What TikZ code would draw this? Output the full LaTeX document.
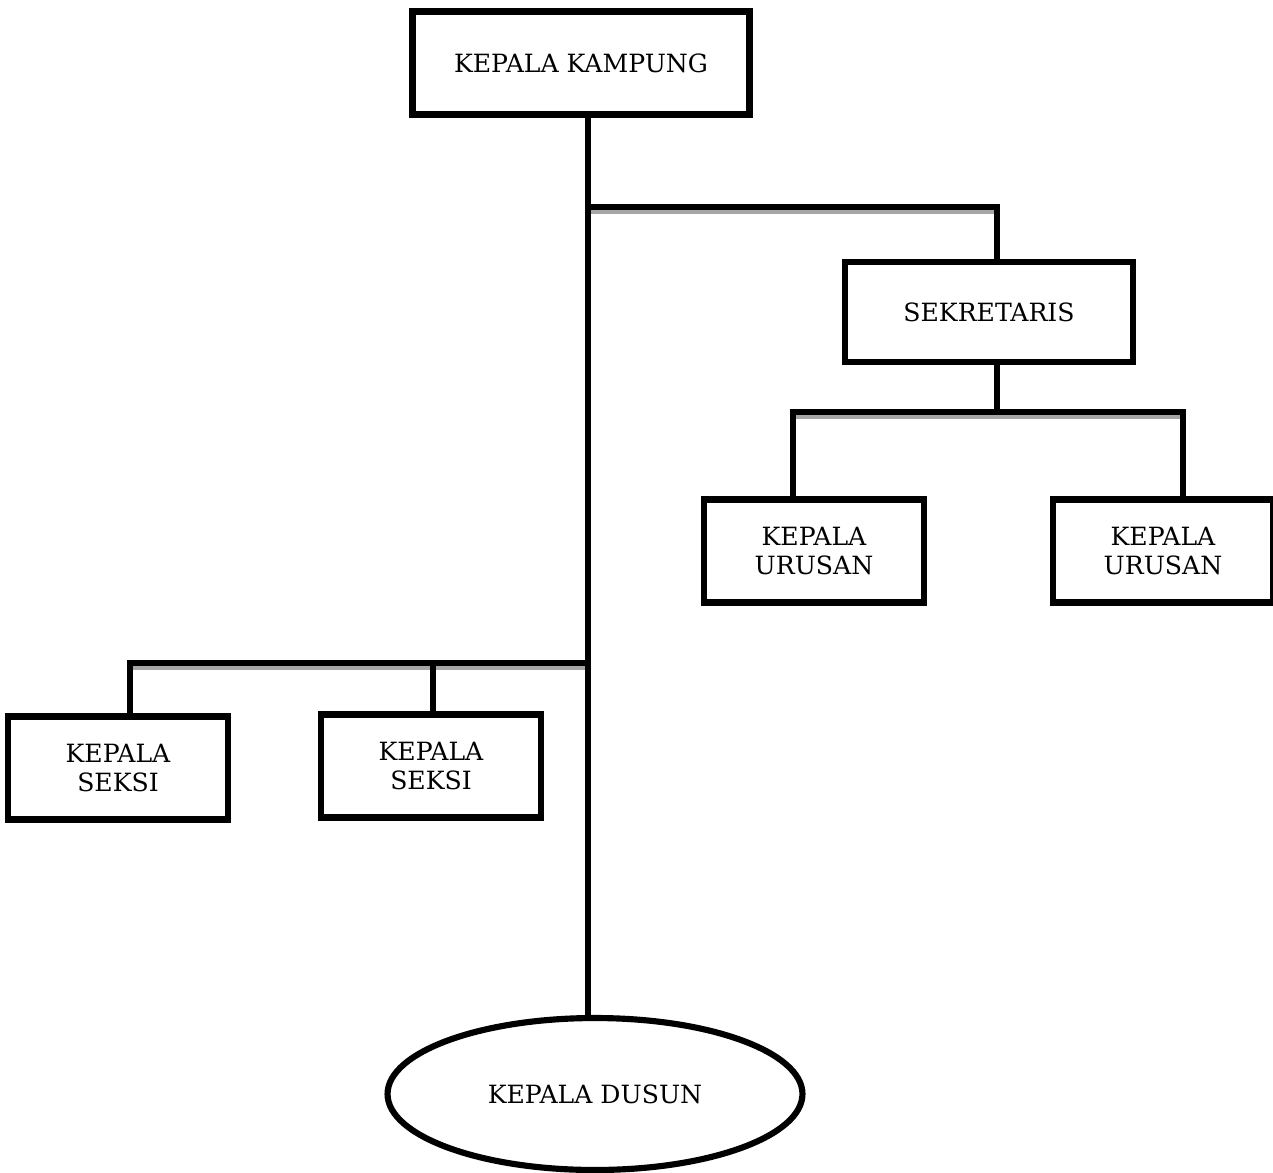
\documentclass[tikz,border=0pt]{standalone}
\usepackage{fontspec}
\setmainfont{DejaVu Serif}
\usepackage{tikz}
\usetikzlibrary{shapes.geometric,positioning}

\begin{document}
\begin{tikzpicture}[x=0.02cm,y=-0.02cm,line width=3.5pt,
                    font=\fontsize{14.3}{17}\selectfont,
                    main node/.style={rectangle,draw,fill=white,align=center,inner sep=0pt},
                    wide node/.style={main node,minimum width=6.74cm,minimum height=2.06cm},
                    sec node/.style={main node,minimum width=5.76cm,minimum height=2cm},
                    sub node/.style={main node,minimum width=4.4cm,minimum height=2.06cm},
                    oval node/.style={ellipse,draw,fill=white,minimum width=8.3cm,minimum height=3.04cm,inner sep=0pt},
                    link/.style={line cap=rect,
                      preaction={draw=black!35,transform canvas={yshift=-2.5pt}}}]
  \useasboundingbox (0,0) rectangle (1273,1172);

  % connectors first, boxes on top
  \coordinate (top) at (588,115);
  \coordinate (bot) at (588,1018);
  \coordinate (j1) at (588,207);
  \coordinate (j2) at (997,207);
  \coordinate (s1) at (997,362);
  \coordinate (s2) at (997,412);
  \coordinate (j3) at (588,663);

  \draw[link] (j1) -- (j2) -- (997,262);
  \draw[link] (793,497) -- (793,412) -- (1183,412) -- (1183,497);
  \draw[link] (130,717) -- (130,663) -- (j3);
  \draw (top) -- (bot);
  \draw (s1) -- (s2);
  \draw (433,663) -- (433,715);

  \node[wide node] (kk) at (581,63) {KEPALA KAMPUNG};
  \node[sec node] (sek) at (989,312) {SEKRETARIS};
  \node[sub node] (ku1) at (814,551) {KEPALA\\URUSAN};
  \node[sub node] (ku2) at (1163,551) {KEPALA\\URUSAN};
  \node[sub node] (ks1) at (118,768) {KEPALA\\SEKSI};
  \node[sub node] (ks2) at (431,766) {KEPALA\\SEKSI};
  \node[oval node] (kd) at (595,1094) {KEPALA DUSUN};
\end{tikzpicture}
\end{document}
